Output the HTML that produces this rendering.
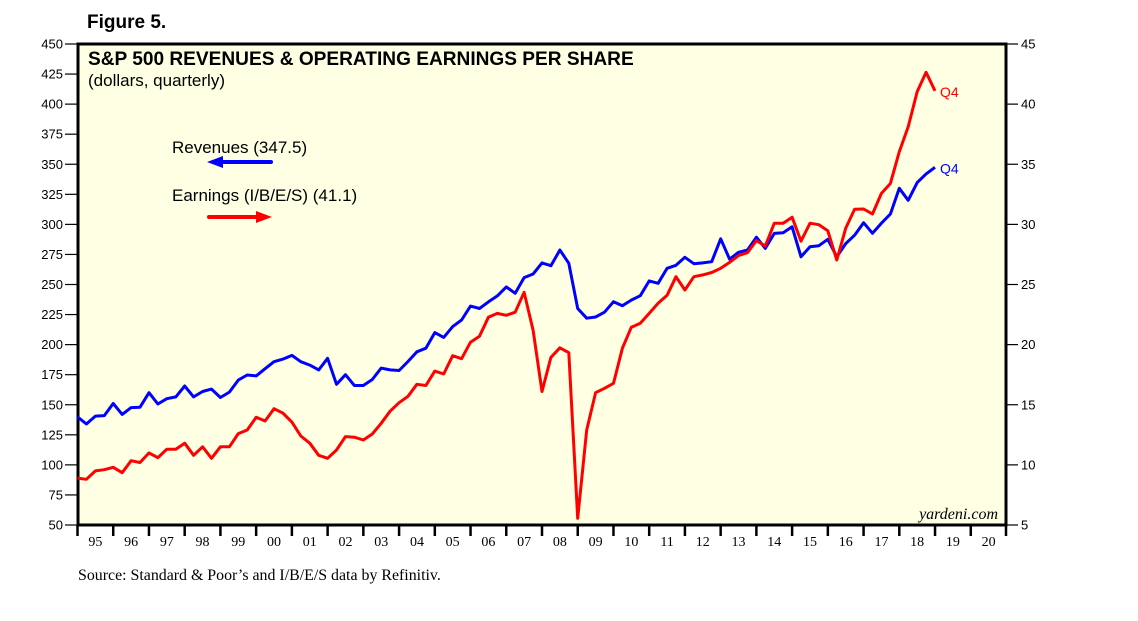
<!DOCTYPE html>
<html><head><meta charset="utf-8">
<style>
body{margin:0;background:#fff;width:1138px;height:621px;overflow:hidden}
svg{display:block}
text{font-family:"Liberation Sans",Arial,sans-serif}
</style></head>
<body>
<svg id="chart" width="1138" height="621" viewBox="0 0 1138 621" xmlns="http://www.w3.org/2000/svg">
<text x="87" y="28" font-size="19" font-weight="bold">Figure 5.</text>
<rect x="78" y="44" width="928" height="481" fill="#ffffe4" stroke="#000" stroke-width="3"/>
<text x="88" y="65" font-size="19.1" font-weight="bold">S&amp;P 500 REVENUES &amp; OPERATING EARNINGS PER SHARE</text>
<text x="88" y="86" font-size="17">(dollars, quarterly)</text>
<text x="172" y="153" font-size="17">Revenues (347.5)</text>
<text x="172" y="201" font-size="17">Earnings (I/B/E/S) (41.1)</text>
<g><line x1="271" y1="162" x2="220" y2="162" stroke="#0000ff" stroke-width="4" stroke-linecap="round"/><polygon points="207,162 223,156 223,168" fill="#0000ff"/></g>
<g><line x1="209" y1="217" x2="258" y2="217" stroke="#ff0000" stroke-width="4" stroke-linecap="round"/><polygon points="272,217 256,211 256,223" fill="#ff0000"/></g>
<g id="axes"></g>
<g id="series"></g>
<text x="998" y="519" font-size="16" font-style="italic" text-anchor="end" style="font-family:'Liberation Serif',serif">yardeni.com</text>
<text x="78" y="580" font-size="15.9" style="font-family:'Liberation Serif',serif">Source: Standard &amp; Poor’s and I/B/E/S data by Refinitiv.</text>
</svg>
<script>
const revenues=[140,134,140.6,141,151,142,147.6,148,160,150.6,155,156.5,165.6,156.5,161,163,156,160.5,170.5,174.7,174,180,185.8,188,191,185.8,183,179,188.6,167,175,166,166,171,180.5,179,178.5,186,194,197,210,206,215,220.5,232,230,235.5,240.5,248,242.7,255.7,258.7,268,265.6,278.7,267.6,230,222,223,227,235.7,232.4,237,240.7,253,251,263.5,266,272.6,267.3,268,269,288,271,276.8,278.7,289.3,280,292.5,293,298,273,281.4,282.3,287.6,273,284,291,301.4,292.6,301,308.6,330,320,334.7,342,347.5];
const earnings=[8.9,8.8,9.5,9.6,9.8,9.35,10.35,10.2,11,10.6,11.3,11.3,11.8,10.8,11.5,10.55,11.5,11.5,12.6,12.9,13.96,13.65,14.67,14.3,13.56,12.4,11.8,10.8,10.55,11.24,12.35,12.3,12.07,12.57,13.46,14.46,15.17,15.7,16.7,16.6,17.8,17.56,19.08,18.83,20.2,20.7,22.27,22.6,22.44,22.7,24.35,21.2,16.1,18.94,19.74,19.33,5.56,12.9,16,16.37,16.78,19.7,21.44,21.77,22.6,23.44,24.1,25.65,24.54,25.65,25.8,26,26.35,26.84,27.4,27.65,28.65,28.2,30.1,30.1,30.6,28.6,30.1,29.97,29.47,27.04,29.67,31.25,31.28,30.86,32.58,33.4,36.04,38.12,41.04,42.65,41.1];
const startYear=1995, endYear=2021;
const leftTicks=[50,75,100,125,150,175,200,225,250,275,300,325,350,375,400,425,450];
const rightTicks=[5,10,15,20,25,30,35,40,45];
const yearLabels=["95","96","97","98","99","00","01","02","03","04","05","06","07","08","09","10","11","12","13","14","15","16","17","18","19","20"];
const X0=77.5,X1=1006.5,Y0=525,Y1=44;
const NS="http://www.w3.org/2000/svg";
function xs(t){return X0+(t-startYear)/(endYear-startYear)*(X1-X0);}
function yl(v){return Y0-(v-50)/400*(Y0-Y1);}
function yr(v){return Y0-(v-5)/40*(Y0-Y1);}
function mk(tag,attrs,parent){const e=document.createElementNS(NS,tag);for(const k in attrs)e.setAttribute(k,attrs[k]);parent.appendChild(e);return e;}
const ax=document.getElementById('axes');
leftTicks.forEach(v=>{
  const y=yl(v);
  const l=mk('line',{x1:65,x2:78,y1:y,y2:y,stroke:'#000','stroke-width':1.2},ax);
  
  
  const t=mk('text',{x:63,y:y+4.5,'font-size':13,'text-anchor':'end'},ax);t.textContent=v;
  
  
});
rightTicks.forEach(v=>{
  const y=yr(v);
  const l=mk('line',{x1:1006,x2:1018,y1:y,y2:y,stroke:'#000','stroke-width':1.2},ax);
  
  
  const t=mk('text',{x:1021,y:y+4.5,'font-size':13},ax);t.textContent=v;
  
  
});
yearLabels.forEach((lab,i)=>{
  const x=xs(startYear+i);
  const l=mk('line',{x1:x,x2:x,y1:525,y2:536,stroke:'#000','stroke-width':2.5},ax);
  
  
  const t=mk('text',{x:xs(startYear+i+0.5),y:546,'font-size':14,'text-anchor':'middle',style:"font-family:'Liberation Serif',serif"},ax);t.textContent=lab;
  
  
});
const lx=mk('line',{x1:1006,x2:1006,y1:525,y2:536,stroke:'#000','stroke-width':2.5},ax);


const sg=document.getElementById('series');
function pts(arr,f){return arr.map((v,i)=>xs(startYear+i*0.25).toFixed(1)+','+f(v).toFixed(1)).join(' ');}
const pr=mk('polyline',{points:pts(revenues,yl),fill:'none',stroke:'#0000ff','stroke-width':3,'stroke-linejoin':'round'},sg);


const pe=mk('polyline',{points:pts(earnings,yr),fill:'none',stroke:'#ff0000','stroke-width':3,'stroke-linejoin':'round'},sg);


const lastX=xs(startYear+(revenues.length-1)*0.25);
const q1=mk('text',{x:lastX+5,y:yl(revenues[revenues.length-1])+6,'font-size':14,fill:'#0000ff'},sg);q1.textContent='Q4';


const q2=mk('text',{x:lastX+5,y:yr(earnings[earnings.length-1])+6,'font-size':14,fill:'#ff0000'},sg);q2.textContent='Q4';


</script>
</body></html>
